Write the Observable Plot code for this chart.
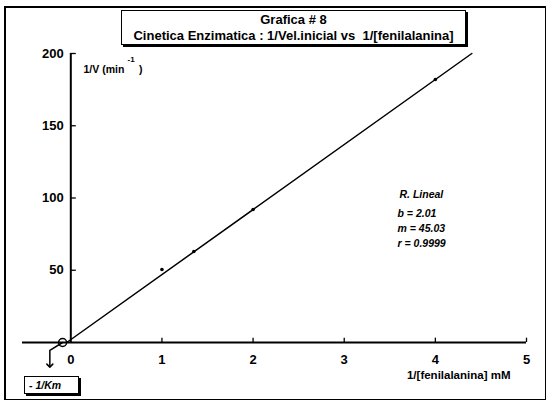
<!DOCTYPE html>
<html>
<head>
<meta charset="utf-8">
<script src="https://cdn.jsdelivr.net/npm/d3@7"></script>
<script src="https://cdn.jsdelivr.net/npm/@observablehq/plot@0.6"></script>
<style>
  html, body { margin: 0; padding: 0; background: #fff; }
  body { width: 550px; height: 404px; position: relative; overflow: hidden;
         font-family: "Liberation Sans", Arial, sans-serif; color: #000; }
  #frame { position: absolute; left: 4px; top: 6px; width: 539px; height: 391px;
           border-left: 2px solid #000; border-top: 2px solid #000;
           border-right: 1px solid #000; border-bottom: 1px solid #000; }
  #title { position: absolute; left: 121px; top: 10px; width: 343px; height: 33px;
           border: 1px solid #000; box-shadow: 2px 2px 0 #000; background: #fff;
           text-align: center; font-weight: bold; font-size: 13px; line-height: 16px;
           white-space: nowrap; }
  #title .t1 { margin-top: 1px; }
  #km { position: absolute; left: 24px; top: 376px;
        border: 1px solid #000; box-shadow: 2px 2px 0 #000; background: #fff;
        font-style: italic; font-weight: bold; font-size: 10.5px; line-height: 16px;
        padding-left: 4px; box-sizing: border-box; width: 55px; height: 18px; }
  #chart { position: absolute; left: 0; top: 0; }
</style>
</head>
<body>
<div id="frame"></div>
<div id="chart"></div>
<div id="title"><div class="t1">Grafica # 8</div><div>Cinetica Enzimatica : 1/Vel.inicial vs &nbsp;1/[fenilalanina]</div></div>
<div id="km">- 1/Km</div>
<script>
// Tick values and labels
const xTicks = [1, 2, 3, 4, 5];
const xTickLabels = ["0", "1", "2", "3", "4", "5"];
const xLabelValues = [0, 1, 2, 3, 4, 5];
const yTicks = [50, 100, 150, 200];
const yTickLabels = ["50", "100", "150", "200"];

// Measured points (1/[S], 1/V)
const pointX = [1, 1.35, 2, 4];
const pointY = [50.5, 63, 92, 182];

// Regression line endpoints (x-intercept -1/Km to top of axis)
const lineX = [-0.0446, 4.40];
const lineY = [0, 200];

// -1/Km marker and its pointer
const kmX = [-0.09];
const kmY = [0];
const arrowX = [-0.09, -0.23, -0.23];
const arrowY = [0, -5.5, -16];

// Regression legend
const legendTitle = ["R. Lineal"];
const legendLines = ["b = 2.01", "m = 45.03", "r = 0.9999"];

const font = "Liberation Sans, Arial, sans-serif";

const chart = Plot.plot({
  width: 550,
  height: 404,
  marginLeft: 22,
  marginRight: 24,
  marginTop: 53,
  marginBottom: 62,
  x: { domain: [-0.53, 5], axis: null },
  y: { domain: [0, 200], axis: null },
  style: { fontFamily: font, background: "transparent", overflow: "visible" },
  marks: [
    // axes
    Plot.ruleY([0], { x1: -0.53, x2: 5, stroke: "#000", strokeWidth: 2 }),
    Plot.ruleX([0], { y1: 0, y2: 200, stroke: "#000", strokeWidth: 2 }),
    Plot.ruleX(xTicks, { x: d => d, y1: 0, y2: 3, stroke: "#000", strokeWidth: 1.3 }),
    Plot.ruleY(yTicks, { y: d => d, x1: 0, x2: 0.06, stroke: "#000", strokeWidth: 1.3 }),
    Plot.text(xLabelValues, { x: d => d, y: 0, text: (d, i) => xTickLabels[i], dy: 17,
      fontSize: 13, fontWeight: "bold", fill: "#000" }),
    Plot.text(yTicks, { x: 0, y: d => d, text: (d, i) => yTickLabels[i], dx: -7,
      textAnchor: "end", fontSize: 13, fontWeight: "bold", fill: "#000" }),
    // axis titles
    Plot.text(["1/V (min     )"], { frameAnchor: "top-left", dx: 61, dy: 12, textAnchor: "start",
      fontSize: 10.5, fontWeight: "bold", fill: "#000" }),
    Plot.text(["-1"], { frameAnchor: "top-left", dx: 105, dy: 3, textAnchor: "start",
      fontSize: 8, fontWeight: "bold", fill: "#000" }),
    Plot.text(["1/[fenilalanina] mM"], { frameAnchor: "bottom-right", dx: -16, dy: 36, textAnchor: "end",
      fontSize: 11.5, fontWeight: "bold", fill: "#000" }),
    // regression line and points
    Plot.line({ length: lineX.length }, { x: lineX, y: lineY, stroke: "#000", strokeWidth: 1.5 }),
    Plot.dot({ length: pointX.length }, { x: pointX, y: pointY, r: 1.8, fill: "#000" }),
    // -1/Km marker
    Plot.dot({ length: 1 }, { x: kmX, y: kmY, r: 4, stroke: "#000", strokeWidth: 1.5, fill: "none" }),
    Plot.line({ length: arrowX.length }, { x: arrowX, y: arrowY, stroke: "#000", strokeWidth: 1.5, markerEnd: "arrow" }),
    // legend
    Plot.text(legendTitle, { frameAnchor: "top-left", dx: 377, dy: 137, textAnchor: "start",
      fontSize: 10.5, fontWeight: "bold", fontStyle: "italic", textDecoration: "underline", fill: "#000" }),
    Plot.text([legendLines.join("\n")], { frameAnchor: "top-left", dx: 375, dy: 153,
      textAnchor: "start", lineAnchor: "top", lineHeight: 1.43,
      fontSize: 10.5, fontWeight: "bold", fontStyle: "italic", fill: "#000" })
  ]
});
document.getElementById("chart").appendChild(chart);
</script>
</body>
</html>
